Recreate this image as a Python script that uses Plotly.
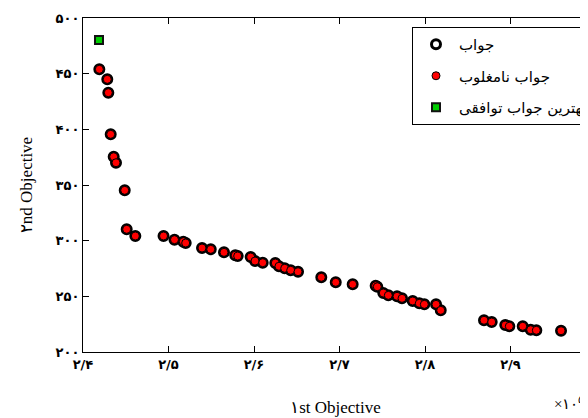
import plotly.graph_objects as go

# Data (x in units of 10^5)
front_x = [2.4191, 2.4284, 2.4296, 2.4324, 2.4359, 2.4386, 2.4488, 2.4511, 2.4612, 2.4942,
           2.5070, 2.5173, 2.5201, 2.5392, 2.5494, 2.5649, 2.5781, 2.5809, 2.5961, 2.6012,
           2.6102, 2.6249, 2.6292, 2.6359, 2.6429, 2.6515, 2.6787, 2.6956, 2.7154, 2.7423,
           2.7442, 2.7512, 2.7571, 2.7673, 2.7731, 2.7856, 2.7933, 2.7992, 2.8129, 2.8184,
           2.8690, 2.8780, 2.8939, 2.8986, 2.9143, 2.9236, 2.9302, 2.9591]
front_y = [453.9, 444.9, 432.9, 395.5, 375.4, 370.0, 345.2, 310.2, 304.2, 304.2,
           300.9, 299.1, 297.9, 293.4, 292.2, 289.5, 286.9, 286.2, 285.3, 281.7,
           280.2, 279.9, 277.0, 275.2, 273.4, 272.1, 267.1, 262.6, 260.8, 259.5,
           258.6, 253.0, 250.9, 250.0, 248.2, 245.8, 243.7, 242.8, 242.8, 237.4,
           228.5, 226.9, 224.2, 223.1, 223.1, 220.0, 219.5, 219.1]
best_x = [2.4187]
best_y = [480.2]

x_tickvals = [2.4, 2.5, 2.6, 2.7, 2.8, 2.9]
x_ticktext = ["۲/۴", "۲/۵", "۲/۶", "۲/۷", "۲/۸", "۲/۹"]
y_tickvals = [200, 250, 300, 350, 400, 450, 500]
y_ticktext = ["۲۰۰", "۲۵۰", "۳۰۰", "۳۵۰", "۴۰۰", "۴۵۰", "۵۰۰"]

names = ["جواب", "جواب نامغلوب", "بهترین جواب توافقی"]

fig = go.Figure()
fig.add_trace(go.Scatter(
    x=front_x, y=front_y, mode="markers", name=names[0], legendgroup="a",
    marker=dict(symbol="circle-open", size=9, color="black", line=dict(width=3, color="black")),
))
fig.add_trace(go.Scatter(
    x=front_x, y=front_y, mode="markers", name=names[1], legendgroup="b",
    marker=dict(symbol="circle", size=8, color="#ff0000", line=dict(width=1, color="black")),
))
fig.add_trace(go.Scatter(
    x=best_x, y=best_y, mode="markers", name=names[2], legendgroup="c",
    marker=dict(symbol="square", size=8, color="#00cc00", line=dict(width=2, color="#111111")),
))

# page body has an 8px margin: compensate so the plot area sits at x 83..588+, y 18..352
OFF = 8
W, H = 588 - OFF, 418 - OFF
L, R, T, B = 83 - OFF, 0, 18 - OFF, 418 - 352
PW, PH = W - L - R, H - T - B
xr = [2.4, 2.4 + PW / 855.0]

tickfont = dict(family="DejaVu Sans", size=13, color="black", weight="bold")
titlefont = dict(family="Liberation Serif", size=17, color="black")

fig.update_layout(
    width=W, height=H,
    margin=dict(l=L, r=R, t=T, b=B, autoexpand=False),
    plot_bgcolor="white", paper_bgcolor="white",
    showlegend=True,
    legend=dict(
        x=(412 - 83) / PW, y=1 - (27 - 18) / PH,
        xanchor="left", yanchor="top",
        bordercolor="black", borderwidth=1, bgcolor="white",
        font=dict(family="DejaVu Sans", size=15, color="black"),
        traceorder="grouped", tracegroupgap=9, itemwidth=36,
    ),
    xaxis=dict(
        range=xr, tickvals=x_tickvals, ticktext=x_ticktext,
        ticks="inside", ticklen=6, tickcolor="black",
        showline=True, linecolor="black", linewidth=1, mirror="ticks",
        showgrid=False, zeroline=False, tickfont=tickfont, automargin=False,
        title=dict(text="۱st Objective", font=titlefont, standoff=30),
    ),
    yaxis=dict(
        range=[200, 500], tickvals=y_tickvals, ticktext=y_ticktext,
        ticks="inside", ticklen=6, tickcolor="black",
        showline=True, linecolor="black", linewidth=1, mirror="ticks",
        showgrid=False, zeroline=False, tickfont=tickfont, automargin=False,
        title=dict(text="۲nd Objective", font=titlefont, standoff=18),
    ),
)

fig.add_annotation(
    text="×۱۰<sup>۵</sup>", xref="paper", yref="paper",
    x=(552 - 83) / PW, y=-(403 - 352) / PH,
    xanchor="left", yanchor="middle", showarrow=False,
    font=dict(family="Liberation Serif", size=15, color="black"),
)

fig.write_html("out.html")
